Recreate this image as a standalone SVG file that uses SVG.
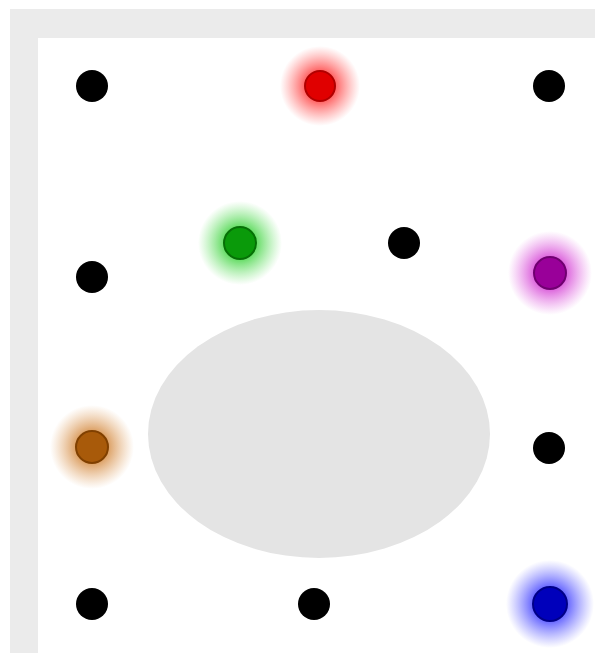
<svg xmlns="http://www.w3.org/2000/svg" width="595" height="653" viewBox="0 0 595 653">
<defs>
<radialGradient id="gr"><stop offset="0.35" stop-color="#ff3030" stop-opacity="0.8"/><stop offset="1" stop-color="#ff6060" stop-opacity="0"/></radialGradient>
<radialGradient id="gg"><stop offset="0.35" stop-color="#30d030" stop-opacity="0.8"/><stop offset="1" stop-color="#60e060" stop-opacity="0"/></radialGradient>
<radialGradient id="gp"><stop offset="0.35" stop-color="#d030d0" stop-opacity="0.8"/><stop offset="1" stop-color="#e060e0" stop-opacity="0"/></radialGradient>
<radialGradient id="go"><stop offset="0.35" stop-color="#d08030" stop-opacity="0.8"/><stop offset="1" stop-color="#e0a060" stop-opacity="0"/></radialGradient>
<radialGradient id="gb"><stop offset="0.35" stop-color="#3030ff" stop-opacity="0.8"/><stop offset="1" stop-color="#6060ff" stop-opacity="0"/></radialGradient>
</defs>
<style>
.dot{fill:#000}
.core{stroke-width:2}
</style>
<rect width="595" height="653" fill="#fff"/>
<path d="M10 9H595V38H38V653H10Z" fill="#ebebeb"/>
<ellipse id="blob" cx="319" cy="434" rx="171" ry="124" fill="#e4e4e4"/>
<g id="connectors"/>
<g id="n1"><circle class="dot" cx="92" cy="86" r="16"/></g>
<g id="n2"><circle class="dot" cx="549" cy="86" r="16"/></g>
<g id="n3"><circle class="dot" cx="92" cy="277" r="16"/></g>
<g id="n4"><circle class="dot" cx="404" cy="243" r="16"/></g>
<g id="n5"><circle class="dot" cx="549" cy="448" r="16"/></g>
<g id="n6"><circle class="dot" cx="92" cy="604" r="16"/></g>
<g id="n7"><circle class="dot" cx="314" cy="604" r="16"/></g>
<g id="red"><circle cx="320" cy="86" r="40" fill="url(#gr)"/><circle class="core" cx="320" cy="86" r="15" fill="#e00000" stroke="#b00000"/></g>
<g id="green"><circle cx="240" cy="243" r="42" fill="url(#gg)"/><circle class="core" cx="240" cy="243" r="16" fill="#0a9a0a" stroke="#067006"/></g>
<g id="purple"><circle cx="550" cy="273" r="42" fill="url(#gp)"/><circle class="core" cx="550" cy="273" r="16" fill="#990099" stroke="#700070"/></g>
<g id="orange"><circle cx="92" cy="447" r="42" fill="url(#go)"/><circle class="core" cx="92" cy="447" r="16" fill="#a85a0a" stroke="#804000"/></g>
<g id="blue"><circle cx="550" cy="604" r="44" fill="url(#gb)"/><circle class="core" cx="550" cy="604" r="17" fill="#0000bb" stroke="#000088"/></g>
</svg>
